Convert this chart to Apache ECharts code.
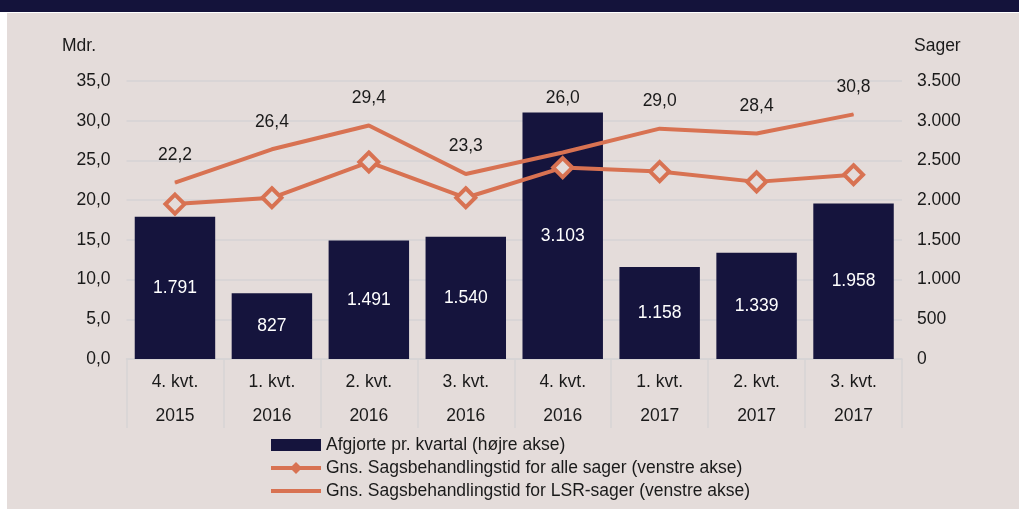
<!DOCTYPE html>
<html>
<head>
<meta charset="utf-8">
<script src="https://cdn.jsdelivr.net/npm/echarts@6/dist/echarts.min.js"></script>
<style>
  html, body { margin: 0; padding: 0; background: #ffffff; }
  #chart { width: 1019px; height: 511px; }
</style>
</head>
<body>
<div id="chart"></div>
<script>
// kvartaler
const quarters = ['4. kvt.', '1. kvt.', '2. kvt.', '3. kvt.', '4. kvt.', '1. kvt.', '2. kvt.', '3. kvt.'];
const years = ['2015', '2016', '2016', '2016', '2016', '2017', '2017', '2017'];

// afgjorte sager pr. kvartal (højre akse)
const afgjorte = [1791, 827, 1491, 1540, 3103, 1158, 1339, 1958];
// gns. sagsbehandlingstid, alle sager (venstre akse)
const alleSager = [19.5, 20.3, 24.8, 20.3, 24.1, 23.6, 22.3, 23.2];
// gns. sagsbehandlingstid, LSR-sager (venstre akse)
const lsrSager = [22.2, 26.4, 29.4, 23.3, 26.0, 29.0, 28.4, 30.8];

const leftTicks = { min: 0, max: 35, interval: 5 };
const rightTicks = { min: 0, max: 3500, interval: 500 };

const FONT = "'Liberation Sans', Arial, sans-serif";
const FS = 17.5;
const BG = '#e4dcda';
const NAVY = '#15143d';
const ORANGE = '#d87252';
const GRID = '#d6d3d5';

const fmtComma = v => v.toFixed(1).replace('.', ',');
const fmtThousand = v => String(Math.round(v)).replace(/\B(?=(\d{3})+(?!\d))/g, '.');

const chart = echarts.init(document.getElementById('chart'));

const option = {
  backgroundColor: BG,
  textStyle: { fontFamily: FONT },
  animation: false,
  graphic: [
    { type: 'rect', shape: { x: 0, y: 0, width: 1019, height: 12 }, style: { fill: '#14133b' } },
    { type: 'rect', shape: { x: 0, y: 12, width: 1019, height: 1 }, style: { fill: '#ffffff' } },
    { type: 'rect', shape: { x: 0, y: 12, width: 7, height: 499 }, style: { fill: '#ffffff' } },
    { type: 'rect', shape: { x: 0, y: 509, width: 1019, height: 2 }, style: { fill: '#ffffff' } },
    { type: 'text', left: 62, top: 37, style: { text: 'Mdr.', font: FS + 'px ' + FONT, fill: '#1a1a1a' } },
    { type: 'text', left: 914, top: 37, style: { text: 'Sager', font: FS + 'px ' + FONT, fill: '#1a1a1a' } }
  ],
  grid: { left: 126.5, right: 117, top: 81, bottom: 152 },
  legend: {
    orient: 'vertical',
    left: 264,
    top: 431,
    itemWidth: 50,
    itemHeight: 12,
    itemGap: 5,
    textStyle: { fontSize: FS, color: '#1a1a1a', lineHeight: 18, fontFamily: FONT },
    data: [
      { name: 'Afgjorte pr. kvartal (højre akse)', icon: 'rect' },
      {
        name: 'Gns. Sagsbehandlingstid for alle sager (venstre akse)',
        icon: 'path://M0,4 L21,4 L25,0 L29,4 L50,4 L50,8 L29,8 L25,12 L21,8 L0,8 Z',
        itemStyle: { color: ORANGE, borderColor: ORANGE, borderWidth: 0 }
      },
      {
        name: 'Gns. Sagsbehandlingstid for LSR-sager (venstre akse)',
        itemStyle: { opacity: 0 },
        lineStyle: { width: 4 }
      }
    ]
  },
  xAxis: {
    type: 'category',
    data: quarters.map((q, i) => q + '\n' + years[i]),
    axisLine: { lineStyle: { color: GRID, width: 1.5 } },
    axisTick: { show: true, interval: 0, length: 69, lineStyle: { color: GRID, width: 1.5 } },
    axisLabel: { interval: 0, margin: 6, fontSize: FS, lineHeight: 34, color: '#1a1a1a' }
  },
  yAxis: [
    {
      type: 'value',
      min: leftTicks.min,
      max: leftTicks.max,
      interval: leftTicks.interval,
      axisLine: { show: false },
      axisTick: { show: false },
      splitLine: { lineStyle: { color: GRID, width: 1.5 } },
      axisLabel: { margin: 16, fontSize: FS, color: '#1a1a1a', formatter: fmtComma }
    },
    {
      type: 'value',
      min: rightTicks.min,
      max: rightTicks.max,
      interval: rightTicks.interval,
      axisLine: { show: false },
      axisTick: { show: false },
      splitLine: { show: false },
      axisLabel: { margin: 15, fontSize: FS, color: '#1a1a1a', formatter: fmtThousand }
    }
  ],
  series: [
    {
      name: 'Afgjorte pr. kvartal (højre akse)',
      type: 'bar',
      yAxisIndex: 1,
      barWidth: '83%',
      data: afgjorte,
      itemStyle: { color: NAVY },
      label: {
        show: true,
        position: 'inside',
        color: '#ffffff',
        fontSize: FS,
        formatter: p => fmtThousand(p.value)
      }
    },
    {
      name: 'Gns. Sagsbehandlingstid for alle sager (venstre akse)',
      type: 'line',
      yAxisIndex: 0,
      data: alleSager,
      symbol: 'diamond',
      symbolSize: 19,
      lineStyle: { color: ORANGE, width: 4 },
      itemStyle: { color: BG, borderColor: ORANGE, borderWidth: 4 },
      z: 3
    },
    {
      name: 'Gns. Sagsbehandlingstid for LSR-sager (venstre akse)',
      type: 'line',
      yAxisIndex: 0,
      data: lsrSager.map((v, i) => i === 4
        ? { value: v, label: { distance: 45 } }
        : v),
      symbol: 'circle',
      symbolSize: 1,
      lineStyle: { color: ORANGE, width: 4 },
      itemStyle: { color: ORANGE },
      label: {
        show: true,
        position: 'top',
        distance: 18,
        fontSize: FS,
        color: '#1a1a1a',
        formatter: p => fmtComma(p.value)
      },
      z: 4
    }
  ]
};

chart.setOption(option);
window.addEventListener('resize', () => chart.resize());
</script>
</body>
</html>
